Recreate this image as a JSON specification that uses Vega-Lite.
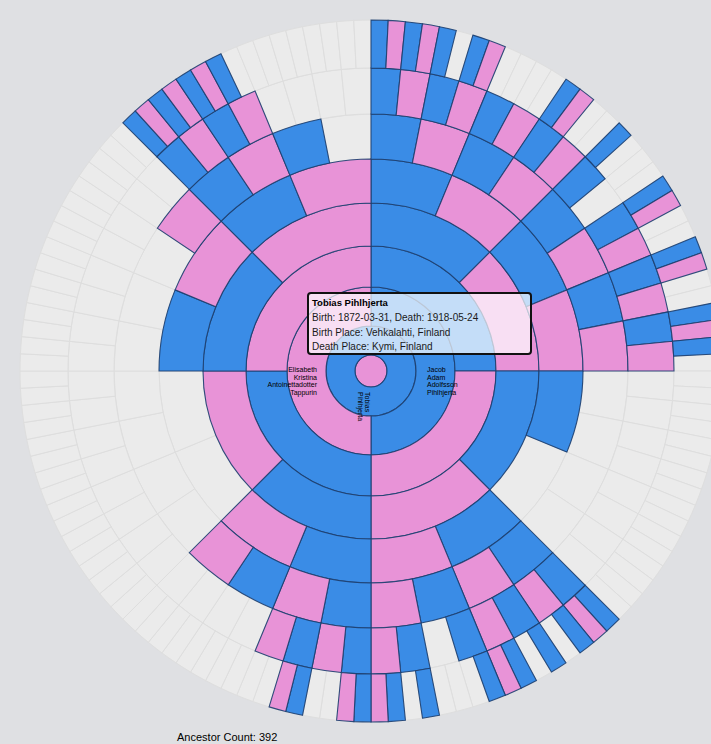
{
"$schema":"https://vega.github.io/schema/vega-lite/v6.json",
"width":711,"height":744,"padding":0,"autosize":{"type":"none"},
"background":"#dfe0e3",
"config":{"view":{"stroke":null},"text":{"font":"Liberation Sans"}},
"data":{"values":[
{"r0":0,"r1":1,"a0":0,"a1":360,"s":"F"},
{"r0":1,"r1":2,"a0":0,"a1":360,"s":"M"},
{"r0":2,"r1":3,"a0":0,"a1":180,"s":"M"},
{"r0":2,"r1":3,"a0":180,"a1":360,"s":"F"},
{"r0":3,"r1":4,"a0":0,"a1":90,"s":"M"},
{"r0":3,"r1":4,"a0":90,"a1":180,"s":"F"},
{"r0":3,"r1":4,"a0":180,"a1":270,"s":"M"},
{"r0":3,"r1":4,"a0":270,"a1":360,"s":"F"},
{"r0":4,"r1":5,"a0":0,"a1":45,"s":"M"},
{"r0":4,"r1":5,"a0":45,"a1":90,"s":"F"},
{"r0":4,"r1":5,"a0":90,"a1":135,"s":"M"},
{"r0":4,"r1":5,"a0":135,"a1":180,"s":"F"},
{"r0":4,"r1":5,"a0":180,"a1":225,"s":"M"},
{"r0":4,"r1":5,"a0":225,"a1":270,"s":"F"},
{"r0":4,"r1":5,"a0":270,"a1":315,"s":"M"},
{"r0":4,"r1":5,"a0":315,"a1":360,"s":"F"},
{"r0":5,"r1":6,"a0":0,"a1":22.5,"s":"M"},
{"r0":5,"r1":6,"a0":22.5,"a1":45,"s":"F"},
{"r0":5,"r1":6,"a0":45,"a1":67.5,"s":"M"},
{"r0":5,"r1":6,"a0":67.5,"a1":90,"s":"F"},
{"r0":5,"r1":6,"a0":90,"a1":112.5,"s":"M"},
{"r0":5,"r1":6,"a0":112.5,"a1":135,"s":"N"},
{"r0":5,"r1":6,"a0":135,"a1":157.5,"s":"M"},
{"r0":5,"r1":6,"a0":157.5,"a1":180,"s":"F"},
{"r0":5,"r1":6,"a0":180,"a1":202.5,"s":"M"},
{"r0":5,"r1":6,"a0":202.5,"a1":225,"s":"F"},
{"r0":5,"r1":6,"a0":225,"a1":247.5,"s":"N"},
{"r0":5,"r1":6,"a0":247.5,"a1":270,"s":"N"},
{"r0":5,"r1":6,"a0":270,"a1":292.5,"s":"M"},
{"r0":5,"r1":6,"a0":292.5,"a1":315,"s":"F"},
{"r0":5,"r1":6,"a0":315,"a1":337.5,"s":"M"},
{"r0":5,"r1":6,"a0":337.5,"a1":360,"s":"F"},
{"r0":6,"r1":7,"a0":0,"a1":11.25,"s":"M"},
{"r0":6,"r1":7,"a0":11.25,"a1":22.5,"s":"F"},
{"r0":6,"r1":7,"a0":22.5,"a1":33.75,"s":"M"},
{"r0":6,"r1":7,"a0":33.75,"a1":45,"s":"F"},
{"r0":6,"r1":7,"a0":45,"a1":56.25,"s":"M"},
{"r0":6,"r1":7,"a0":56.25,"a1":67.5,"s":"F"},
{"r0":6,"r1":7,"a0":67.5,"a1":78.75,"s":"M"},
{"r0":6,"r1":7,"a0":78.75,"a1":90,"s":"F"},
{"r0":6,"r1":7,"a0":90,"a1":101.25,"s":"N"},
{"r0":6,"r1":7,"a0":101.25,"a1":112.5,"s":"N"},
{"r0":6,"r1":7,"a0":112.5,"a1":123.75,"s":"N"},
{"r0":6,"r1":7,"a0":123.75,"a1":135,"s":"N"},
{"r0":6,"r1":7,"a0":135,"a1":146.25,"s":"M"},
{"r0":6,"r1":7,"a0":146.25,"a1":157.5,"s":"F"},
{"r0":6,"r1":7,"a0":157.5,"a1":168.75,"s":"M"},
{"r0":6,"r1":7,"a0":168.75,"a1":180,"s":"F"},
{"r0":6,"r1":7,"a0":180,"a1":191.25,"s":"M"},
{"r0":6,"r1":7,"a0":191.25,"a1":202.5,"s":"F"},
{"r0":6,"r1":7,"a0":202.5,"a1":213.75,"s":"M"},
{"r0":6,"r1":7,"a0":213.75,"a1":225,"s":"F"},
{"r0":6,"r1":7,"a0":225,"a1":236.25,"s":"N"},
{"r0":6,"r1":7,"a0":236.25,"a1":247.5,"s":"N"},
{"r0":6,"r1":7,"a0":247.5,"a1":258.75,"s":"N"},
{"r0":6,"r1":7,"a0":258.75,"a1":270,"s":"N"},
{"r0":6,"r1":7,"a0":270,"a1":281.25,"s":"N"},
{"r0":6,"r1":7,"a0":281.25,"a1":292.5,"s":"N"},
{"r0":6,"r1":7,"a0":292.5,"a1":303.75,"s":"N"},
{"r0":6,"r1":7,"a0":303.75,"a1":315,"s":"F"},
{"r0":6,"r1":7,"a0":315,"a1":326.25,"s":"M"},
{"r0":6,"r1":7,"a0":326.25,"a1":337.5,"s":"F"},
{"r0":6,"r1":7,"a0":337.5,"a1":348.75,"s":"M"},
{"r0":6,"r1":7,"a0":348.75,"a1":360,"s":"N"},
{"r0":7,"r1":8,"a0":0,"a1":5.625,"s":"M"},
{"r0":7,"r1":8,"a0":5.625,"a1":11.25,"s":"F"},
{"r0":7,"r1":8,"a0":11.25,"a1":16.875,"s":"M"},
{"r0":7,"r1":8,"a0":16.875,"a1":22.5,"s":"F"},
{"r0":7,"r1":8,"a0":22.5,"a1":28.125,"s":"M"},
{"r0":7,"r1":8,"a0":28.125,"a1":33.75,"s":"F"},
{"r0":7,"r1":8,"a0":33.75,"a1":39.375,"s":"M"},
{"r0":7,"r1":8,"a0":39.375,"a1":45,"s":"F"},
{"r0":7,"r1":8,"a0":45,"a1":50.625,"s":"M"},
{"r0":7,"r1":8,"a0":50.625,"a1":56.25,"s":"N"},
{"r0":7,"r1":8,"a0":56.25,"a1":61.875,"s":"M"},
{"r0":7,"r1":8,"a0":61.875,"a1":67.5,"s":"F"},
{"r0":7,"r1":8,"a0":67.5,"a1":73.125,"s":"M"},
{"r0":7,"r1":8,"a0":73.125,"a1":78.75,"s":"F"},
{"r0":7,"r1":8,"a0":78.75,"a1":84.375,"s":"M"},
{"r0":7,"r1":8,"a0":84.375,"a1":90,"s":"F"},
{"r0":7,"r1":8,"a0":90,"a1":95.625,"s":"N"},
{"r0":7,"r1":8,"a0":95.625,"a1":101.25,"s":"N"},
{"r0":7,"r1":8,"a0":101.25,"a1":106.875,"s":"N"},
{"r0":7,"r1":8,"a0":106.875,"a1":112.5,"s":"N"},
{"r0":7,"r1":8,"a0":112.5,"a1":118.125,"s":"N"},
{"r0":7,"r1":8,"a0":118.125,"a1":123.75,"s":"N"},
{"r0":7,"r1":8,"a0":123.75,"a1":129.375,"s":"N"},
{"r0":7,"r1":8,"a0":129.375,"a1":135,"s":"N"},
{"r0":7,"r1":8,"a0":135,"a1":140.625,"s":"M"},
{"r0":7,"r1":8,"a0":140.625,"a1":146.25,"s":"F"},
{"r0":7,"r1":8,"a0":146.25,"a1":151.875,"s":"M"},
{"r0":7,"r1":8,"a0":151.875,"a1":157.5,"s":"F"},
{"r0":7,"r1":8,"a0":157.5,"a1":163.125,"s":"M"},
{"r0":7,"r1":8,"a0":163.125,"a1":168.75,"s":"N"},
{"r0":7,"r1":8,"a0":168.75,"a1":174.375,"s":"M"},
{"r0":7,"r1":8,"a0":174.375,"a1":180,"s":"F"},
{"r0":7,"r1":8,"a0":180,"a1":185.625,"s":"M"},
{"r0":7,"r1":8,"a0":185.625,"a1":191.25,"s":"F"},
{"r0":7,"r1":8,"a0":191.25,"a1":196.875,"s":"M"},
{"r0":7,"r1":8,"a0":196.875,"a1":202.5,"s":"F"},
{"r0":7,"r1":8,"a0":202.5,"a1":208.125,"s":"N"},
{"r0":7,"r1":8,"a0":208.125,"a1":213.75,"s":"N"},
{"r0":7,"r1":8,"a0":213.75,"a1":219.375,"s":"N"},
{"r0":7,"r1":8,"a0":219.375,"a1":225,"s":"N"},
{"r0":7,"r1":8,"a0":225,"a1":230.625,"s":"N"},
{"r0":7,"r1":8,"a0":230.625,"a1":236.25,"s":"N"},
{"r0":7,"r1":8,"a0":236.25,"a1":241.875,"s":"N"},
{"r0":7,"r1":8,"a0":241.875,"a1":247.5,"s":"N"},
{"r0":7,"r1":8,"a0":247.5,"a1":253.125,"s":"N"},
{"r0":7,"r1":8,"a0":253.125,"a1":258.75,"s":"N"},
{"r0":7,"r1":8,"a0":258.75,"a1":264.375,"s":"N"},
{"r0":7,"r1":8,"a0":264.375,"a1":270,"s":"N"},
{"r0":7,"r1":8,"a0":270,"a1":275.625,"s":"N"},
{"r0":7,"r1":8,"a0":275.625,"a1":281.25,"s":"N"},
{"r0":7,"r1":8,"a0":281.25,"a1":286.875,"s":"N"},
{"r0":7,"r1":8,"a0":286.875,"a1":292.5,"s":"N"},
{"r0":7,"r1":8,"a0":292.5,"a1":298.125,"s":"N"},
{"r0":7,"r1":8,"a0":298.125,"a1":303.75,"s":"N"},
{"r0":7,"r1":8,"a0":303.75,"a1":309.375,"s":"N"},
{"r0":7,"r1":8,"a0":309.375,"a1":315,"s":"N"},
{"r0":7,"r1":8,"a0":315,"a1":320.625,"s":"M"},
{"r0":7,"r1":8,"a0":320.625,"a1":326.25,"s":"F"},
{"r0":7,"r1":8,"a0":326.25,"a1":331.875,"s":"M"},
{"r0":7,"r1":8,"a0":331.875,"a1":337.5,"s":"F"},
{"r0":7,"r1":8,"a0":337.5,"a1":343.125,"s":"N"},
{"r0":7,"r1":8,"a0":343.125,"a1":348.75,"s":"N"},
{"r0":7,"r1":8,"a0":348.75,"a1":354.375,"s":"N"},
{"r0":7,"r1":8,"a0":354.375,"a1":360,"s":"N"},
{"r0":8,"r1":9,"a0":0,"a1":2.8125,"s":"M"},
{"r0":8,"r1":9,"a0":2.8125,"a1":5.625,"s":"F"},
{"r0":8,"r1":9,"a0":5.625,"a1":8.4375,"s":"M"},
{"r0":8,"r1":9,"a0":8.4375,"a1":11.25,"s":"F"},
{"r0":8,"r1":9,"a0":11.25,"a1":14.0625,"s":"M"},
{"r0":8,"r1":9,"a0":14.0625,"a1":16.875,"s":"N"},
{"r0":8,"r1":9,"a0":16.875,"a1":19.6875,"s":"M"},
{"r0":8,"r1":9,"a0":19.6875,"a1":22.5,"s":"F"},
{"r0":8,"r1":9,"a0":22.5,"a1":25.3125,"s":"N"},
{"r0":8,"r1":9,"a0":25.3125,"a1":28.125,"s":"N"},
{"r0":8,"r1":9,"a0":28.125,"a1":30.9375,"s":"N"},
{"r0":8,"r1":9,"a0":30.9375,"a1":33.75,"s":"N"},
{"r0":8,"r1":9,"a0":33.75,"a1":36.5625,"s":"M"},
{"r0":8,"r1":9,"a0":36.5625,"a1":39.375,"s":"F"},
{"r0":8,"r1":9,"a0":39.375,"a1":42.1875,"s":"N"},
{"r0":8,"r1":9,"a0":42.1875,"a1":45,"s":"N"},
{"r0":8,"r1":9,"a0":45,"a1":47.8125,"s":"M"},
{"r0":8,"r1":9,"a0":47.8125,"a1":50.625,"s":"N"},
{"r0":8,"r1":9,"a0":50.625,"a1":53.4375,"s":"N"},
{"r0":8,"r1":9,"a0":53.4375,"a1":56.25,"s":"N"},
{"r0":8,"r1":9,"a0":56.25,"a1":59.0625,"s":"M"},
{"r0":8,"r1":9,"a0":59.0625,"a1":61.875,"s":"F"},
{"r0":8,"r1":9,"a0":61.875,"a1":64.6875,"s":"N"},
{"r0":8,"r1":9,"a0":64.6875,"a1":67.5,"s":"N"},
{"r0":8,"r1":9,"a0":67.5,"a1":70.3125,"s":"M"},
{"r0":8,"r1":9,"a0":70.3125,"a1":73.125,"s":"F"},
{"r0":8,"r1":9,"a0":73.125,"a1":75.9375,"s":"N"},
{"r0":8,"r1":9,"a0":75.9375,"a1":78.75,"s":"N"},
{"r0":8,"r1":9,"a0":78.75,"a1":81.5625,"s":"M"},
{"r0":8,"r1":9,"a0":81.5625,"a1":84.375,"s":"F"},
{"r0":8,"r1":9,"a0":84.375,"a1":87.1875,"s":"M"},
{"r0":8,"r1":9,"a0":87.1875,"a1":90,"s":"N"},
{"r0":8,"r1":9,"a0":90,"a1":92.8125,"s":"N"},
{"r0":8,"r1":9,"a0":92.8125,"a1":95.625,"s":"N"},
{"r0":8,"r1":9,"a0":95.625,"a1":98.4375,"s":"N"},
{"r0":8,"r1":9,"a0":98.4375,"a1":101.25,"s":"N"},
{"r0":8,"r1":9,"a0":101.25,"a1":104.0625,"s":"N"},
{"r0":8,"r1":9,"a0":104.0625,"a1":106.875,"s":"N"},
{"r0":8,"r1":9,"a0":106.875,"a1":109.6875,"s":"N"},
{"r0":8,"r1":9,"a0":109.6875,"a1":112.5,"s":"N"},
{"r0":8,"r1":9,"a0":112.5,"a1":115.3125,"s":"N"},
{"r0":8,"r1":9,"a0":115.3125,"a1":118.125,"s":"N"},
{"r0":8,"r1":9,"a0":118.125,"a1":120.9375,"s":"N"},
{"r0":8,"r1":9,"a0":120.9375,"a1":123.75,"s":"N"},
{"r0":8,"r1":9,"a0":123.75,"a1":126.5625,"s":"N"},
{"r0":8,"r1":9,"a0":126.5625,"a1":129.375,"s":"N"},
{"r0":8,"r1":9,"a0":129.375,"a1":132.1875,"s":"N"},
{"r0":8,"r1":9,"a0":132.1875,"a1":135,"s":"N"},
{"r0":8,"r1":9,"a0":135,"a1":137.8125,"s":"M"},
{"r0":8,"r1":9,"a0":137.8125,"a1":140.625,"s":"F"},
{"r0":8,"r1":9,"a0":140.625,"a1":143.4375,"s":"M"},
{"r0":8,"r1":9,"a0":143.4375,"a1":146.25,"s":"N"},
{"r0":8,"r1":9,"a0":146.25,"a1":149.0625,"s":"M"},
{"r0":8,"r1":9,"a0":149.0625,"a1":151.875,"s":"N"},
{"r0":8,"r1":9,"a0":151.875,"a1":154.6875,"s":"M"},
{"r0":8,"r1":9,"a0":154.6875,"a1":157.5,"s":"F"},
{"r0":8,"r1":9,"a0":157.5,"a1":160.3125,"s":"M"},
{"r0":8,"r1":9,"a0":160.3125,"a1":163.125,"s":"N"},
{"r0":8,"r1":9,"a0":163.125,"a1":165.9375,"s":"N"},
{"r0":8,"r1":9,"a0":165.9375,"a1":168.75,"s":"N"},
{"r0":8,"r1":9,"a0":168.75,"a1":171.5625,"s":"M"},
{"r0":8,"r1":9,"a0":171.5625,"a1":174.375,"s":"N"},
{"r0":8,"r1":9,"a0":174.375,"a1":177.1875,"s":"M"},
{"r0":8,"r1":9,"a0":177.1875,"a1":180,"s":"F"},
{"r0":8,"r1":9,"a0":180,"a1":182.8125,"s":"M"},
{"r0":8,"r1":9,"a0":182.8125,"a1":185.625,"s":"F"},
{"r0":8,"r1":9,"a0":185.625,"a1":188.4375,"s":"N"},
{"r0":8,"r1":9,"a0":188.4375,"a1":191.25,"s":"N"},
{"r0":8,"r1":9,"a0":191.25,"a1":194.0625,"s":"M"},
{"r0":8,"r1":9,"a0":194.0625,"a1":196.875,"s":"F"},
{"r0":8,"r1":9,"a0":196.875,"a1":199.6875,"s":"N"},
{"r0":8,"r1":9,"a0":199.6875,"a1":202.5,"s":"N"},
{"r0":8,"r1":9,"a0":202.5,"a1":205.3125,"s":"N"},
{"r0":8,"r1":9,"a0":205.3125,"a1":208.125,"s":"N"},
{"r0":8,"r1":9,"a0":208.125,"a1":210.9375,"s":"N"},
{"r0":8,"r1":9,"a0":210.9375,"a1":213.75,"s":"N"},
{"r0":8,"r1":9,"a0":213.75,"a1":216.5625,"s":"N"},
{"r0":8,"r1":9,"a0":216.5625,"a1":219.375,"s":"N"},
{"r0":8,"r1":9,"a0":219.375,"a1":222.1875,"s":"N"},
{"r0":8,"r1":9,"a0":222.1875,"a1":225,"s":"N"},
{"r0":8,"r1":9,"a0":225,"a1":227.8125,"s":"N"},
{"r0":8,"r1":9,"a0":227.8125,"a1":230.625,"s":"N"},
{"r0":8,"r1":9,"a0":230.625,"a1":233.4375,"s":"N"},
{"r0":8,"r1":9,"a0":233.4375,"a1":236.25,"s":"N"},
{"r0":8,"r1":9,"a0":236.25,"a1":239.0625,"s":"N"},
{"r0":8,"r1":9,"a0":239.0625,"a1":241.875,"s":"N"},
{"r0":8,"r1":9,"a0":241.875,"a1":244.6875,"s":"N"},
{"r0":8,"r1":9,"a0":244.6875,"a1":247.5,"s":"N"},
{"r0":8,"r1":9,"a0":247.5,"a1":250.3125,"s":"N"},
{"r0":8,"r1":9,"a0":250.3125,"a1":253.125,"s":"N"},
{"r0":8,"r1":9,"a0":253.125,"a1":255.9375,"s":"N"},
{"r0":8,"r1":9,"a0":255.9375,"a1":258.75,"s":"N"},
{"r0":8,"r1":9,"a0":258.75,"a1":261.5625,"s":"N"},
{"r0":8,"r1":9,"a0":261.5625,"a1":264.375,"s":"N"},
{"r0":8,"r1":9,"a0":264.375,"a1":267.1875,"s":"N"},
{"r0":8,"r1":9,"a0":267.1875,"a1":270,"s":"N"},
{"r0":8,"r1":9,"a0":270,"a1":272.8125,"s":"N"},
{"r0":8,"r1":9,"a0":272.8125,"a1":275.625,"s":"N"},
{"r0":8,"r1":9,"a0":275.625,"a1":278.4375,"s":"N"},
{"r0":8,"r1":9,"a0":278.4375,"a1":281.25,"s":"N"},
{"r0":8,"r1":9,"a0":281.25,"a1":284.0625,"s":"N"},
{"r0":8,"r1":9,"a0":284.0625,"a1":286.875,"s":"N"},
{"r0":8,"r1":9,"a0":286.875,"a1":289.6875,"s":"N"},
{"r0":8,"r1":9,"a0":289.6875,"a1":292.5,"s":"N"},
{"r0":8,"r1":9,"a0":292.5,"a1":295.3125,"s":"N"},
{"r0":8,"r1":9,"a0":295.3125,"a1":298.125,"s":"N"},
{"r0":8,"r1":9,"a0":298.125,"a1":300.9375,"s":"N"},
{"r0":8,"r1":9,"a0":300.9375,"a1":303.75,"s":"N"},
{"r0":8,"r1":9,"a0":303.75,"a1":306.5625,"s":"N"},
{"r0":8,"r1":9,"a0":306.5625,"a1":309.375,"s":"N"},
{"r0":8,"r1":9,"a0":309.375,"a1":312.1875,"s":"N"},
{"r0":8,"r1":9,"a0":312.1875,"a1":315,"s":"N"},
{"r0":8,"r1":9,"a0":315,"a1":317.8125,"s":"M"},
{"r0":8,"r1":9,"a0":317.8125,"a1":320.625,"s":"F"},
{"r0":8,"r1":9,"a0":320.625,"a1":323.4375,"s":"M"},
{"r0":8,"r1":9,"a0":323.4375,"a1":326.25,"s":"F"},
{"r0":8,"r1":9,"a0":326.25,"a1":329.0625,"s":"M"},
{"r0":8,"r1":9,"a0":329.0625,"a1":331.875,"s":"F"},
{"r0":8,"r1":9,"a0":331.875,"a1":334.6875,"s":"M"},
{"r0":8,"r1":9,"a0":334.6875,"a1":337.5,"s":"N"},
{"r0":8,"r1":9,"a0":337.5,"a1":340.3125,"s":"N"},
{"r0":8,"r1":9,"a0":340.3125,"a1":343.125,"s":"N"},
{"r0":8,"r1":9,"a0":343.125,"a1":345.9375,"s":"N"},
{"r0":8,"r1":9,"a0":345.9375,"a1":348.75,"s":"N"},
{"r0":8,"r1":9,"a0":348.75,"a1":351.5625,"s":"N"},
{"r0":8,"r1":9,"a0":351.5625,"a1":354.375,"s":"N"},
{"r0":8,"r1":9,"a0":354.375,"a1":357.1875,"s":"N"},
{"r0":8,"r1":9,"a0":357.1875,"a1":360,"s":"N"}
]},
"layer":[
{"mark":{"type":"arc","fill":"#ebebeb","stroke":"#dedede","strokeWidth":1},
 "encoding":{
  "x":{"datum":0,"type":"quantitative","scale":{"domain":[-371,340],"nice":false,"zero":false},"axis":null},
  "y":{"datum":0,"type":"quantitative","scale":{"domain":[-373,371],"nice":false,"zero":false},"axis":null},
  "theta":{"field":"a0","type":"quantitative","stack":null,"scale":{"domain":[0,360],"range":[0,6.283185307179586]}},
  "theta2":{"field":"a1"},
  "radius":{"field":"r0","type":"quantitative","scale":{"type":"linear","domain":[0,1,2,3,4,5,6,7,8,9],"range":[0,16,45,84,125,168,212,257,303,351],"zero":false,"nice":false}},
  "radius2":{"field":"r1"}
 }},
{"transform":[{"filter":"datum.s != 'N'"}],
 "mark":{"type":"arc","stroke":"#1d3f70","strokeWidth":1.1,"strokeOpacity":0.9},
 "encoding":{
  "x":{"datum":0,"type":"quantitative","scale":{"domain":[-371,340],"nice":false,"zero":false},"axis":null},
  "y":{"datum":0,"type":"quantitative","scale":{"domain":[-373,371],"nice":false,"zero":false},"axis":null},
  "theta":{"field":"a0","type":"quantitative","stack":null,"scale":{"domain":[0,360],"range":[0,6.283185307179586]}},
  "theta2":{"field":"a1"},
  "radius":{"field":"r0","type":"quantitative","scale":{"type":"linear","domain":[0,1,2,3,4,5,6,7,8,9],"range":[0,16,45,84,125,168,212,257,303,351],"zero":false,"nice":false}},
  "radius2":{"field":"r1"},
  "fill":{"field":"s","type":"nominal","scale":{"domain":["M","F"],"range":["#3a8ce6","#e893d7"]},"legend":null}
 }},
{"data":{"values":[{"t":"Tobias\nPihlhjerta"}]},
 "mark":{"type":"text","angle":90,"align":"left","baseline":"middle","fontSize":7,"lineHeight":7,"lineBreak":"\n","fill":"#000"},
 "encoding":{
  "x":{"datum":-4,"type":"quantitative","scale":{"domain":[-371,340],"nice":false,"zero":false},"axis":null},
  "y":{"datum":-21,"type":"quantitative","scale":{"domain":[-373,371],"nice":false,"zero":false},"axis":null},
  "text":{"field":"t"}}},
{"data":{"values":[{"t":"Elisabeth\nKristina\nAntoinettadotter\nTappurin"}]},
 "mark":{"type":"text","align":"right","baseline":"top","fontSize":7,"lineHeight":7.5,"lineBreak":"\n","fill":"#000"},
 "encoding":{
  "x":{"datum":-54,"type":"quantitative","scale":{"domain":[-371,340],"nice":false,"zero":false},"axis":null},
  "y":{"datum":5,"type":"quantitative","scale":{"domain":[-373,371],"nice":false,"zero":false},"axis":null},
  "text":{"field":"t"}}},
{"data":{"values":[{"t":"Jacob\nAdam\nAdolfsson\nPihlhjerta"}]},
 "mark":{"type":"text","align":"left","baseline":"top","fontSize":7,"lineHeight":7.5,"lineBreak":"\n","fill":"#000"},
 "encoding":{
  "x":{"datum":56,"type":"quantitative","scale":{"domain":[-371,340],"nice":false,"zero":false},"axis":null},
  "y":{"datum":5,"type":"quantitative","scale":{"domain":[-373,371],"nice":false,"zero":false},"axis":null},
  "text":{"field":"t"}}},
{"data":{"values":[{"name":"Tobias Pihlhjerta"}]},
 "mark":{"type":"rect","fill":"#ffffff","fillOpacity":0.7,"stroke":"#111111","strokeWidth":2,"cornerRadius":3},
 "encoding":{
  "x":{"datum":-63,"type":"quantitative","scale":{"domain":[-371,340],"nice":false,"zero":false},"axis":null},
  "x2":{"datum":160},
  "y":{"datum":78,"type":"quantitative","scale":{"domain":[-373,371],"nice":false,"zero":false},"axis":null},
  "y2":{"datum":17}}},
{"data":{"values":[{"name":"Tobias Pihlhjerta"}]},
 "mark":{"type":"text","align":"left","baseline":"middle","fontSize":9.5,"fontWeight":"bold","fill":"#000"},
 "encoding":{
  "x":{"datum":-59,"type":"quantitative","scale":{"domain":[-371,340],"nice":false,"zero":false},"axis":null},
  "y":{"datum":68,"type":"quantitative","scale":{"domain":[-373,371],"nice":false,"zero":false},"axis":null},
  "text":{"field":"name"}}},
{"data":{"values":[{"t":"Birth: 1872-03-31, Death: 1918-05-24\nBirth Place: Vehkalahti, Finland\nDeath Place: Kymi, Finland"}]},
 "mark":{"type":"text","align":"left","baseline":"top","fontSize":10,"lineHeight":14.5,"lineBreak":"\n","fill":"#1a1a1a"},
 "encoding":{
  "x":{"datum":-59,"type":"quantitative","scale":{"domain":[-371,340],"nice":false,"zero":false},"axis":null},
  "y":{"datum":58,"type":"quantitative","scale":{"domain":[-373,371],"nice":false,"zero":false},"axis":null},
  "text":{"field":"t"}}},
{"data":{"values":[{"t":"Ancestor Count: 392"}]},
 "mark":{"type":"text","align":"left","baseline":"middle","fontSize":11,"fill":"#000"},
 "encoding":{
  "x":{"datum":-194,"type":"quantitative","scale":{"domain":[-371,340],"nice":false,"zero":false},"axis":null},
  "y":{"datum":-367,"type":"quantitative","scale":{"domain":[-373,371],"nice":false,"zero":false},"axis":null},
  "text":{"field":"t"}}}
]
}
